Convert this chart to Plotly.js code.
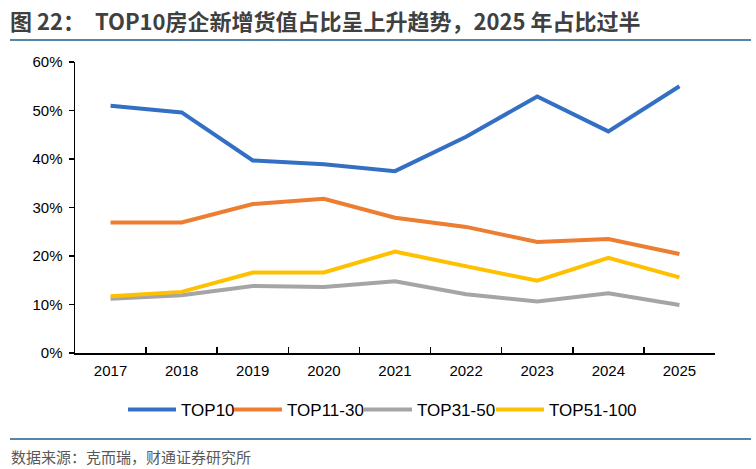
<!DOCTYPE html>
<html><head><meta charset="utf-8">
<script src="https://cdn.plot.ly/plotly-3.0.1.min.js"></script>
<style>html,body{margin:0;padding:0;background:#fff}#c{width:756px;height:469px}</style>
</head><body><div id="c"></div>
<script>
const years = ['2017','2018','2019','2020','2021','2022','2023','2024','2025'];
const top10 = [0.510, 0.496, 0.397, 0.389, 0.375, 0.446, 0.529, 0.457, 0.550];
const top11_30 = [0.269, 0.269, 0.307, 0.318, 0.279, 0.260, 0.229, 0.235, 0.204];
const top31_50 = [0.112, 0.119, 0.138, 0.136, 0.148, 0.121, 0.106, 0.123, 0.099];
const top51_100 = [0.117, 0.126, 0.166, 0.166, 0.209, 0.180, 0.149, 0.196, 0.156];
const seriesNames = ['TOP10','TOP11-30','TOP31-50','TOP51-100'];
const colors = ['#3370C4','#ED7D31','#A5A5A5','#FFC000'];
const legendIds = ['legend','legend2','legend3','legend4'];
const legendStartPx = [128, 234, 364, 496];
const data = [top10, top11_30, top31_50, top51_100].map((v,i)=>({
  type:'scatter', mode:'lines', x:years, y:v, name:seriesNames[i],
  line:{color:colors[i], width:4}, legend:legendIds[i]
}));
const font = 'Liberation Sans, Arial, sans-serif';
const L = 75, T = 62, PW = 640, PH = 291;
const px2x = p => (p - L) / PW;
const px2y = p => (T + PH - p) / PH;
const layout = {
  width:756, height:469,
  margin:{l:L, r:756-L-PW, t:T, b:469-T-PH},
  paper_bgcolor:'#fff', plot_bgcolor:'#fff',
  showlegend:true,
  title:{text:'图 22：  TOP10房企新增货值占比呈上升趋势，2025 年占比过半',
    x:10/756, xanchor:'left', xref:'container', y:1-22/469, yanchor:'middle', yref:'container',
    font:{family:'Noto Sans CJK SC, sans-serif', size:22, color:'#404040', weight:'bold'}},
  xaxis:{type:'category', range:[-0.5, 8.5], showline:true, linecolor:'#000', linewidth:1.5,
    ticks:'inside', tickson:'boundaries', ticklen:6, tickcolor:'#000', tickwidth:1.5,
    showgrid:false, zeroline:false, fixedrange:true, ticklabelstandoff:3,
    tickfont:{family:font, size:15, color:'#000'}},
  yaxis:{range:[0,0.6], dtick:0.1, tickformat:'.0%', showline:true, linecolor:'#000', linewidth:1.5,
    ticks:'outside', ticklen:5, tickcolor:'#000', tickwidth:1.5,
    showgrid:false, zeroline:false, fixedrange:true, ticklabelstandoff:3,
    tickfont:{family:font, size:15, color:'#000'}},
  shapes:[
    {type:'line', xref:'paper', yref:'paper', x0:px2x(10), x1:px2x(751),
     y0:px2y(40), y1:px2y(40), line:{color:'#1F5C8B', width:1.5}},
    {type:'line', xref:'paper', yref:'paper', x0:px2x(10), x1:px2x(751),
     y0:px2y(439), y1:px2y(439), line:{color:'#1F5C8B', width:1.5}}
  ],
  annotations:[
    {text:'数据来源：克而瑞，财通证券研究所', xref:'paper', yref:'paper',
     x:px2x(9), xanchor:'left', y:px2y(456), yanchor:'middle', showarrow:false,
     font:{family:'Noto Sans CJK SC, sans-serif', size:15, color:'#595959'}}
  ]
};
legendIds.forEach((id,i)=>{
  layout[id] = {orientation:'h', x:px2x(legendStartPx[i]-5), xanchor:'left', y:px2y(410), yanchor:'middle',
    font:{family:font, size:17, color:'#000'}, itemwidth:48, bgcolor:'rgba(0,0,0,0)', borderwidth:0};
});
Plotly.newPlot('c', data, layout, {displayModeBar:false, staticPlot:true});
</script></body></html>
